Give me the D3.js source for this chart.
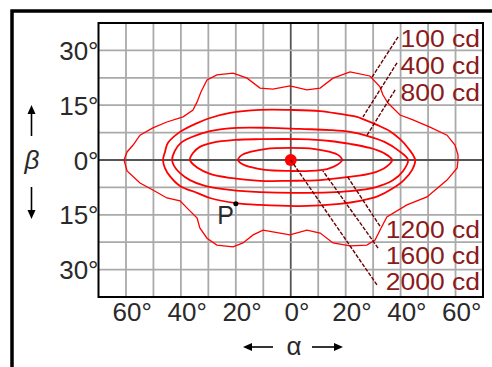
<!DOCTYPE html>
<html>
<head>
<meta charset="utf-8">
<script src="https://cdn.jsdelivr.net/npm/d3@7"></script>
<style>
  body { margin: 0; background: #fff; }
  text { font-family: "Liberation Sans", Arial, sans-serif; }
</style>
</head>
<body>
<script>
// tick values, degrees
var alphaTicks = [-60, -40, -20, 0, 20, 40, 60];
var betaTicks = [30, 15, 0, -15, -30];

// iso-candela lines, [alpha, beta] in degrees
var contour100 = [
    [-60.7, 0], [-59.6, 2.2], [-57.4, 4.1], [-54.9, 6.8], [-50.2, 8.8], [-45.1, 10.4], [-39.2, 11.8],
    [-35.6, 13.7], [-34.1, 15.9], [-32.7, 18.6], [-30.5, 21.9], [-26.9, 23.3], [-21.0, 23.8],
    [-15.9, 22.4], [-11.2, 19.7], [-6.5, 19.4], [-0.3, 20.3], [5.9, 19.2], [10.7, 19.7], [15.4, 22.4],
    [21.6, 24.1], [28.8, 23.0], [32.5, 20.0], [33.6, 17.8], [35.4, 15.6], [39.8, 12.3], [44.5, 11.0],
    [50.7, 9.0], [56.9, 6.8], [59.8, 4.1], [60.9, 1.4], [60.9, 0],
    [60.6, -2.2], [56.9, -5.5], [49.6, -10.1], [42.3, -12.3], [35.0, -15.6], [32.9, -18.6],
    [30.7, -21.9], [27.7, -23.3], [21.6, -23.5], [15.4, -22.7], [10.7, -20.0], [5.9, -19.2],
    [-0.3, -20.5], [-6.5, -19.7], [-10.1, -19.2], [-13.7, -20.5], [-17.4, -22.7], [-21.0, -23.8],
    [-26.9, -23.3], [-30.5, -21.4], [-33.1, -18.6], [-34.1, -15.9], [-37.8, -13.1], [-40.3, -11.2],
    [-45.1, -10.4], [-50.2, -8.2], [-54.9, -6.3], [-59.6, -3.0]
];
var contour400 = [
    [-46.5, 0], [-45.8, 2.2], [-44.7, 4.7], [-40.3, 7.7], [-34.1, 10.1], [-29.4, 11.5], [-22.1, 12.9],
    [-11.2, 13.7], [-0.3, 13.7], [10.7, 13.4], [17.9, 12.6], [24.1, 11.8], [26.3, 11.2], [31.4, 9.6],
    [36.1, 7.9], [39.8, 5.7], [42.7, 3.3], [45.3, 0],
    [44.2, -2.7], [41.2, -5.5], [36.9, -7.9], [31.8, -9.9], [25.2, -11.2], [17.9, -12.0], [3.4, -12.6],
    [-11.2, -12.3], [-19.9, -11.8], [-29.4, -10.4], [-34.1, -9.0], [-40.3, -7.1], [-44.0, -4.4], [-45.8, -2.2]
];
var contour800 = [
    [-43.2, 0], [-42.2, 2.5], [-40.0, 4.7], [-36.0, 6.3], [-29.4, 7.9], [-19.6, 8.8], [-7.6, 8.8],
    [3.4, 8.5], [14.3, 8.2], [21.6, 7.7], [27.8, 6.6], [34.3, 4.9], [39.0, 2.7], [42.7, 0],
    [40.9, -3.0], [37.3, -5.5], [31.1, -7.4], [21.6, -8.5], [3.4, -9.0], [-11.2, -8.8], [-22.1, -8.2],
    [-31.2, -7.1], [-36.7, -5.5], [-40.3, -3.6], [-42.5, -1.6]
];
var contour1200 = [
    [-36.7, 0], [-35.6, 1.9], [-33.1, 3.6], [-28.7, 4.7], [-20.3, 5.5], [-11.2, 5.7], [3.4, 5.7],
    [14.3, 5.2], [21.6, 4.4], [28.8, 3.3], [33.9, 1.9], [36.9, 0],
    [34.7, -1.9], [29.6, -3.6], [20.4, -4.7], [10.7, -5.5], [-0.3, -5.7], [-11.2, -5.7], [-22.1, -4.9],
    [-29.4, -3.8], [-33.8, -2.2]
];
var contour1600 = [
    [-19.2, 0], [-17.7, 1.4], [-14.8, 2.2], [-9.4, 3.0], [-0.3, 3.3], [8.8, 3.0], [14.3, 2.2],
    [17.2, 1.4], [18.7, 0],
    [16.8, -1.4], [13.2, -2.5], [7.0, -3.0], [-0.3, -3.0], [-9.4, -2.7], [-14.8, -1.9], [-17.7, -1.1]
];
var peak = [0, 0];          // 2000 cd
var pointP = [-20, -12];

// label text, where its leader touches the line, where the leader ends by the label
var levelNames = ["100 cd", "400 cd", "800 cd", "1200 cd", "1600 cd", "2000 cd"];
var leaderOnLine = [[29.6, 22.7], [26.3, 11.8], [27.8, 6.8], [20.5, -4.4], [11.7, -3.0], [0, 0]];
var leaderAtLabel = [[39.1, 33.7], [38.7, 26.6], [38.0, 19.2], [32.5, -18.1], [31.8, -24.1], [31.4, -34.2]];
var labelBeta = [30.9, 23.5, 16.2, -21.4, -28.5, -35.6];

var x = d3.scaleLinear().domain([-70, 70]).range([98.5, 483]);
var y = d3.scaleLinear().domain([37.5, -37.5]).range([23, 297]);

var svg = d3.select("body").append("svg")
    .attr("width", 492)
    .attr("height", 367);

// outer frame, cut off by the window
svg.append("rect")
    .attr("x", 12).attr("y", 11)
    .attr("width", 700).attr("height", 700)
    .attr("fill", "none")
    .attr("stroke", "#000")
    .attr("stroke-width", 3.5);

var g = svg.append("g");

// grid
g.selectAll(".vgrid")
    .data(d3.range(-60, 61, 10))
    .enter().append("line")
    .attr("x1", function (d) { return x(d) }).attr("x2", function (d) { return x(d) })
    .attr("y1", y(37.5)).attr("y2", y(-37.5))
    .style("stroke", function (d) { return d == 0 ? "#555" : "#aaa" })
    .style("stroke-width", 1.8);
g.selectAll(".hgrid")
    .data(d3.range(-30, 31, 7.5))
    .enter().append("line")
    .attr("x1", x(-70)).attr("x2", x(70))
    .attr("y1", function (d) { return y(d) }).attr("y2", function (d) { return y(d) })
    .style("stroke", function (d) { return d == 0 ? "#555" : "#aaa" })
    .style("stroke-width", 1.8);

g.append("rect")
    .attr("x", x(-70)).attr("y", y(37.5))
    .attr("width", x(70) - x(-70)).attr("height", y(-37.5) - y(37.5))
    .attr("fill", "none")
    .style("stroke", "#000")
    .style("stroke-width", 2);

// axes
var deg = function (d) { return Math.abs(d) + "°" };
var xAxis = g.append("g")
    .attr("transform", "translate(0," + y(-37.5) + ")")
    .call(d3.axisBottom(x).tickValues(alphaTicks).tickSize(0).tickPadding(6).tickFormat(deg));
xAxis.select(".domain").remove();
xAxis.selectAll("text").attr("dx", "0.22em");

var yAxis = g.append("g")
    .attr("transform", "translate(" + x(-70) + ",0)")
    .call(d3.axisLeft(y).tickValues(betaTicks).tickSize(0).tickPadding(0).tickFormat(deg));
yAxis.select(".domain").remove();
yAxis.selectAll("text").attr("dy", "0.35em");

svg.selectAll(".tick text")
    .attr("font-family", "Liberation Sans, Arial, sans-serif")
    .attr("font-size", 26)
    .attr("fill", "#2a2a2a");

// contours
var line = d3.line()
    .x(function (d) { return x(d[0]) })
    .y(function (d) { return y(d[1]) });

g.append("path")
    .attr("d", line.curve(d3.curveLinearClosed)(contour100))
    .attr("fill", "none")
    .style("stroke", "#ff0000")
    .style("stroke-width", 1.3);

var inner = [contour400, contour800, contour1200, contour1600];
g.selectAll(".iso")
    .data(inner)
    .enter().append("path")
    .attr("class", "iso")
    .attr("d", function (d) { return line.curve(d3.curveCatmullRomClosed)(d) })
    .attr("fill", "none")
    .style("stroke", "#ff0000")
    .style("stroke-width", 1.8);

g.append("circle")
    .attr("cx", x(peak[0])).attr("cy", y(peak[1]))
    .attr("r", 6)
    .attr("fill", "#ff0000");

// leaders and labels
g.selectAll(".leader")
    .data(levelNames)
    .enter().append("line")
    .attr("x1", function (d, i) { return x(leaderAtLabel[i][0]) })
    .attr("y1", function (d, i) { return y(leaderAtLabel[i][1]) })
    .attr("x2", function (d, i) { return x(leaderOnLine[i][0]) })
    .attr("y2", function (d, i) { return y(leaderOnLine[i][1]) })
    .style("stroke", "#6b0000")
    .style("stroke-width", 1.4)
    .style("stroke-dasharray", "4,1.5");

g.selectAll(".level")
    .data(levelNames)
    .enter().append("text")
    .attr("x", x(70) - 3)
    .attr("y", function (d, i) { return y(labelBeta[i]) })
    .attr("text-anchor", "end")
    .attr("font-size", 23)
    .attr("fill", "#8b1a1a")
    .text(function (d) { return d })
    .each(function () {
        // the original lettering is wider than the font
        var w = this.getComputedTextLength();
        d3.select(this).attr("textLength", w * 1.15).attr("lengthAdjust", "spacingAndGlyphs");
    });

// point P
g.append("circle")
    .attr("cx", x(pointP[0])).attr("cy", y(pointP[1]))
    .attr("r", 2.5)
    .attr("fill", "#000");
g.append("text")
    .attr("x", x(pointP[0]) - 2)
    .attr("y", y(pointP[1]) + 20)
    .attr("text-anchor", "end")
    .attr("font-size", 25)
    .attr("fill", "#2a2a2a")
    .text("P");

// axis names with arrows
function arrow(x1, y1, x2, y2) {
    var a = Math.atan2(y2 - y1, x2 - x1), L = 9, w = 4;
    svg.append("line")
        .attr("x1", x1).attr("y1", y1)
        .attr("x2", x2 - Math.cos(a) * (L - 1)).attr("y2", y2 - Math.sin(a) * (L - 1))
        .style("stroke", "#000").style("stroke-width", 1.6);
    var bx = x2 - Math.cos(a) * L, by = y2 - Math.sin(a) * L;
    svg.append("path")
        .attr("d", "M" + x2 + "," + y2 +
            "L" + (bx - Math.sin(a) * w) + "," + (by + Math.cos(a) * w) +
            "L" + (bx + Math.sin(a) * w) + "," + (by - Math.cos(a) * w) + "Z")
        .attr("fill", "#000");
}
arrow(31.5, 136, 31.5, 105);
arrow(31.5, 187, 31.5, 219);
arrow(273, 347, 243, 347);
arrow(312, 347, 343, 347);

svg.append("text")
    .attr("x", 32).attr("y", 169)
    .attr("text-anchor", "middle")
    .attr("font-size", 26)
    .attr("font-style", "italic")
    .attr("fill", "#2a2a2a")
    .text("β");
svg.append("text")
    .attr("x", 294).attr("y", 355)
    .attr("text-anchor", "middle")
    .attr("font-size", 26)
    .attr("fill", "#2a2a2a")
    .text("α");
</script>
</body>
</html>
